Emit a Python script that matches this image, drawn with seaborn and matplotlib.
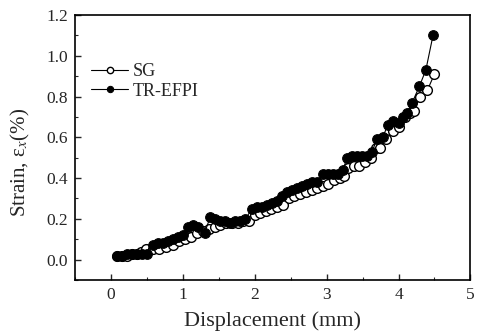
import numpy as np
import pandas as pd
import seaborn as sns
import matplotlib.pyplot as plt

# SG (open circles)
sg_x = [0.08, 0.15, 0.22, 0.29, 0.36, 0.42, 0.49, 0.58, 0.67, 0.76, 0.86, 0.95,
        1.03, 1.11, 1.19, 1.28, 1.36, 1.44, 1.52, 1.60, 1.68, 1.76, 1.84, 1.92,
        2.00, 2.07, 2.15, 2.23, 2.31, 2.39, 2.47, 2.55, 2.63, 2.71, 2.79, 2.87,
        2.95, 3.02, 3.10, 3.18, 3.24, 3.30, 3.38, 3.45, 3.53, 3.61, 3.68, 3.74,
        3.82, 3.92, 4.01, 4.09, 4.16, 4.22, 4.30, 4.40, 4.50]
sg_y = [0.02, 0.02, 0.02, 0.03, 0.03, 0.04, 0.05, 0.05, 0.05, 0.06, 0.07, 0.09,
        0.10, 0.11, 0.13, 0.14, 0.15, 0.16, 0.17, 0.18, 0.18, 0.18, 0.19, 0.19,
        0.22, 0.23, 0.24, 0.25, 0.26, 0.27, 0.30, 0.31, 0.32, 0.33, 0.34, 0.35,
        0.36, 0.37, 0.39, 0.40, 0.41, 0.45, 0.46, 0.46, 0.48, 0.50, 0.55, 0.55,
        0.59, 0.63, 0.65, 0.70, 0.72, 0.73, 0.80, 0.83, 0.91]

# TR-EFPI (filled circles)
efpi_x = [0.08, 0.15, 0.22, 0.29, 0.36, 0.43, 0.50, 0.58, 0.65, 0.72, 0.79, 0.86,
          0.93, 1.00, 1.07, 1.14, 1.21, 1.30, 1.38, 1.45, 1.52, 1.59, 1.66, 1.73,
          1.80, 1.87, 1.96, 2.03, 2.10, 2.17, 2.24, 2.31, 2.38, 2.45, 2.52, 2.59,
          2.66, 2.73, 2.80, 2.87, 2.95, 3.02, 3.09, 3.16, 3.23, 3.28, 3.35, 3.42,
          3.49, 3.56, 3.63, 3.70, 3.78, 3.85, 3.92, 4.00, 4.06, 4.12, 4.19, 4.29,
          4.38, 4.48]
efpi_y = [0.02, 0.02, 0.03, 0.03, 0.03, 0.03, 0.03, 0.07, 0.08, 0.08, 0.09, 0.10,
          0.11, 0.12, 0.16, 0.17, 0.16, 0.13, 0.21, 0.20, 0.19, 0.19, 0.18, 0.19,
          0.19, 0.20, 0.25, 0.26, 0.26, 0.27, 0.28, 0.29, 0.31, 0.33, 0.34, 0.35,
          0.36, 0.37, 0.38, 0.38, 0.42, 0.42, 0.42, 0.42, 0.44, 0.50, 0.51, 0.51,
          0.51, 0.51, 0.53, 0.59, 0.60, 0.66, 0.68, 0.67, 0.70, 0.72, 0.77, 0.85,
          0.93, 1.10]

sns.set_style("ticks")
plt.rcParams['font.family'] = ['Liberation Serif', 'DejaVu Serif']
plt.rcParams['mathtext.fontset'] = 'stix'

fig = plt.figure(figsize=(4.79, 3.33), dpi=100)
ax = fig.add_axes([0.157, 0.159, 0.825, 0.796])

sns.lineplot(x=sg_x, y=sg_y, ax=ax, sort=False, estimator=None, color='black',
             lw=0.8, marker='o', markersize=7, markerfacecolor='white',
             markeredgecolor='black', markeredgewidth=1.0, label='SG')
sns.lineplot(x=efpi_x, y=efpi_y, ax=ax, sort=False, estimator=None, color='black',
             lw=0.8, marker='o', markersize=7, markerfacecolor='black',
             markeredgecolor='black', label='TR-EFPI')

ax.set_xlim(-0.5, 5)
ax.set_ylim(-0.1, 1.2)
ax.set_xticks([0, 1, 2, 3, 4, 5])
ax.set_xticks(np.arange(-0.5, 5, 0.5), minor=True)
ax.set_yticks([0.0, 0.2, 0.4, 0.6, 0.8, 1.0, 1.2])
ax.set_yticks(np.arange(-0.1, 1.2, 0.1), minor=True)
ax.set_yticklabels(['0.0', '0.2', '0.4', '0.6', '0.8', '1.0', '1.2'])
ax.tick_params(direction='in', which='major', length=4, width=1, labelsize=12.5, pad=5)
ax.tick_params(direction='in', which='minor', length=2, width=0.8)
for s in ax.spines.values():
    s.set_linewidth(1.2)
    s.set_color('black')

ax.set_xlabel('Displacement (mm)', fontsize=16, labelpad=6)
ax.set_ylabel('Strain, ε$_x$(%)', fontsize=15)
ax.yaxis.set_label_coords(-0.11, 0.445)

ax.legend(loc='upper left', bbox_to_anchor=(0.0, 0.88), frameon=False,
          fontsize=13, markerscale=0.65, handlelength=2.0, handletextpad=0.3,
          labelspacing=0.15)

fig.savefig('out.png', dpi=100)
